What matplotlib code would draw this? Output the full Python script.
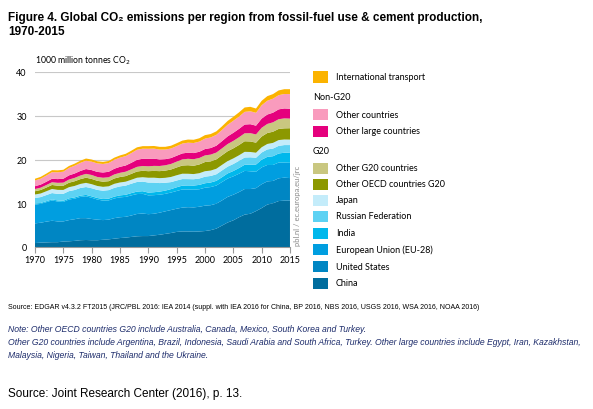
import matplotlib
matplotlib.use("Agg")
import matplotlib.pyplot as plt
from matplotlib.patches import Rectangle

years = list(range(1970, 2016))

# 1000 million tonnes CO2
china = [0.9, 1.0, 1.05, 1.1, 1.1, 1.25, 1.3, 1.4, 1.55, 1.6,
         1.55, 1.55, 1.65, 1.75, 1.9, 2.05, 2.15, 2.3, 2.45, 2.5,
         2.5, 2.65, 2.8, 3.0, 3.2, 3.45, 3.55, 3.55, 3.5, 3.55,
         3.65, 3.85, 4.2, 4.9, 5.6, 6.1, 6.8, 7.4, 7.6, 8.2,
         8.9, 9.7, 10.0, 10.5, 10.6, 10.6]
united_states = [4.5, 4.55, 4.75, 4.9, 4.75, 4.6, 4.85, 4.95, 5.05, 5.0,
                 4.85, 4.7, 4.5, 4.5, 4.7, 4.75, 4.75, 4.9, 5.1, 5.15,
                 5.0, 4.95, 5.05, 5.15, 5.25, 5.3, 5.45, 5.55, 5.55, 5.65,
                 5.8, 5.7, 5.7, 5.75, 5.85, 5.85, 5.75, 5.85, 5.65, 5.25,
                 5.45, 5.3, 5.1, 5.2, 5.25, 5.15]
eu28 = [4.3, 4.3, 4.45, 4.65, 4.55, 4.45, 4.7, 4.7, 4.85, 5.0,
        4.85, 4.6, 4.45, 4.4, 4.5, 4.55, 4.55, 4.6, 4.55, 4.5,
        4.3, 4.25, 4.1, 4.0, 4.0, 4.05, 4.15, 4.05, 4.05, 4.0,
        4.1, 4.15, 4.15, 4.2, 4.2, 4.2, 4.2, 4.15, 4.05, 3.75,
        3.85, 3.75, 3.65, 3.6, 3.45, 3.5]
india = [0.2, 0.21, 0.22, 0.23, 0.24, 0.26, 0.27, 0.28, 0.29, 0.31,
         0.33, 0.35, 0.37, 0.4, 0.42, 0.45, 0.48, 0.52, 0.56, 0.6,
         0.63, 0.67, 0.71, 0.74, 0.78, 0.85, 0.88, 0.92, 0.94, 1.0,
         1.02, 1.04, 1.07, 1.1, 1.17, 1.22, 1.3, 1.4, 1.5, 1.65,
         1.75, 1.85, 2.0, 2.07, 2.25, 2.35]
russia = [1.3, 1.35, 1.4, 1.45, 1.5, 1.6, 1.65, 1.7, 1.75, 1.8,
          1.85, 1.85, 1.9, 1.95, 2.0, 2.05, 2.1, 2.15, 2.2, 2.2,
          2.3, 2.2, 1.95, 1.8, 1.6, 1.55, 1.5, 1.45, 1.45, 1.45,
          1.5, 1.5, 1.5, 1.55, 1.55, 1.6, 1.65, 1.65, 1.7, 1.55,
          1.65, 1.7, 1.75, 1.75, 1.75, 1.7]
japan = [0.8, 0.82, 0.87, 0.93, 0.92, 0.88, 0.9, 0.93, 0.92, 0.95,
         0.93, 0.9, 0.88, 0.87, 0.92, 0.9, 0.9, 0.9, 0.97, 1.0,
         1.1, 1.12, 1.13, 1.12, 1.18, 1.2, 1.22, 1.22, 1.18, 1.22,
         1.25, 1.23, 1.26, 1.27, 1.27, 1.28, 1.26, 1.3, 1.22, 1.15,
         1.2, 1.25, 1.3, 1.32, 1.27, 1.25]
other_oecd = [0.75, 0.8, 0.85, 0.92, 0.95, 0.97, 1.02, 1.07, 1.1, 1.18,
              1.2, 1.18, 1.18, 1.17, 1.22, 1.25, 1.28, 1.35, 1.42, 1.47,
              1.5, 1.55, 1.6, 1.65, 1.7, 1.78, 1.87, 1.95, 1.9, 2.0,
              2.1, 2.1, 2.15, 2.2, 2.25, 2.3, 2.35, 2.42, 2.4, 2.3,
              2.45, 2.5, 2.55, 2.55, 2.55, 2.6]
other_g20 = [0.5, 0.53, 0.57, 0.62, 0.66, 0.7, 0.73, 0.77, 0.82, 0.88,
             0.9, 0.88, 0.9, 0.9, 0.93, 0.96, 1.0, 1.03, 1.07, 1.1,
             1.12, 1.15, 1.18, 1.22, 1.27, 1.33, 1.4, 1.47, 1.5, 1.48,
             1.52, 1.55, 1.55, 1.58, 1.65, 1.7, 1.77, 1.82, 1.9, 1.88,
             2.0, 2.08, 2.15, 2.22, 2.28, 2.2]
other_large = [0.65, 0.7, 0.75, 0.8, 0.85, 0.9, 0.95, 1.0, 1.05, 1.1,
               1.12, 1.15, 1.2, 1.25, 1.3, 1.37, 1.42, 1.5, 1.6, 1.65,
               1.7, 1.65, 1.5, 1.4, 1.35, 1.35, 1.37, 1.4, 1.4, 1.42,
               1.45, 1.5, 1.57, 1.65, 1.75, 1.85, 1.92, 2.0, 2.05, 2.0,
               2.1, 2.15, 2.2, 2.25, 2.27, 2.25]
other_countries = [1.3, 1.35, 1.42, 1.5, 1.55, 1.6, 1.7, 1.78, 1.85, 1.9,
                   1.92, 1.95, 1.95, 2.0, 2.05, 2.1, 2.15, 2.22, 2.3, 2.3,
                   2.3, 2.3, 2.25, 2.2, 2.18, 2.2, 2.25, 2.28, 2.3, 2.32,
                   2.38, 2.42, 2.48, 2.55, 2.65, 2.75, 2.8, 2.9, 2.95, 2.95,
                   3.05, 3.15, 3.2, 3.25, 3.3, 3.35]
intl_transport = [0.4, 0.42, 0.44, 0.46, 0.45, 0.44, 0.45, 0.47, 0.49, 0.5,
                  0.5, 0.48, 0.47, 0.47, 0.48, 0.5, 0.52, 0.54, 0.56, 0.58,
                  0.6, 0.6, 0.62, 0.62, 0.64, 0.66, 0.68, 0.72, 0.74, 0.76,
                  0.8, 0.78, 0.8, 0.83, 0.88, 0.92, 0.97, 1.0, 1.02, 0.97,
                  1.02, 1.05, 1.05, 1.08, 1.1, 1.12]

series = [china, united_states, eu28, india, russia, japan,
          other_oecd, other_g20, other_large, other_countries, intl_transport]
colors = ["#006d9e", "#0086c3", "#009ee0", "#00b8ec", "#5dd2f3", "#c4ecfa",
          "#8c9800", "#c9c780", "#e5007d", "#f99bbd", "#fbb300"]

arial = ["Liberation Sans", "DejaVu Sans"]
tickfont = ["Lato", "DejaVu Sans"]

fig = plt.figure(figsize=(5.93, 4.10), dpi=100)
ax = fig.add_axes([35 / 593, 1 - 248 / 410, 255 / 593, 175 / 410])

ax.stackplot(years, *series, colors=colors, linewidth=0)
ax.set_xlim(1970, 2015)
ax.set_ylim(0, 40)
ax.set_yticks([0, 10, 20, 30, 40])
ax.set_xticks(range(1970, 2016, 5))
for v in [10, 20, 30, 40]:
    ax.axhline(v, color="#c8c8c8", lw=0.8, zorder=0)
for s in ["top", "right", "left"]:
    ax.spines[s].set_visible(False)
ax.spines["bottom"].set_color("#999999")
ax.spines["bottom"].set_linewidth(0.8)
ax.tick_params(axis="x", length=4, color="#999999", labelsize=6.5, pad=2)
ax.tick_params(axis="y", length=0, labelsize=6.5, pad=6)
for lab in ax.get_xticklabels() + ax.get_yticklabels():
    lab.set_family(tickfont)
ax.axvline(2015, ymin=0, ymax=(248 - 170) / 175, color="#999999", lw=0.8)

ax.text(0, 1.035, "1000 million tonnes CO$_2$", transform=ax.transAxes,
        fontsize=6.2, family=tickfont, ha="left", va="bottom")
fig.text(294 / 593, 1 - 246 / 410, "pbl.nl / ec.europa.eu/jrc", rotation=90,
         fontsize=5.5, color="#8a8a8a", family=tickfont, ha="left", va="bottom")

# title
fig.text(8 / 593, 1 - 18 / 410,
         "Figure 4. Global CO\u2082 emissions per region from fossil-fuel use & cement production,",
         fontsize=8.45, fontweight="bold", family=arial, va="center")
fig.text(8 / 593, 1 - 32 / 410, "1970-2015",
         fontsize=8.45, fontweight="bold", family=arial, va="center")

# legend on the right
legend_rows = [("International transport", 78, 10),
               ("Non-G20", 98, None),
               ("Other countries", 115, 9),
               ("Other large countries", 132, 8),
               ("G20", 152, None),
               ("Other G20 countries", 169, 7),
               ("Other OECD countries G20", 185, 6),
               ("Japan", 201, 5),
               ("Russian Federation", 217, 4),
               ("India", 234, 3),
               ("European Union (EU-28)", 250, 2),
               ("United States", 267, 1),
               ("China", 284, 0)]
for text, ypx, idx in legend_rows:
    yf = 1 - ypx / 410
    if idx is None:
        fig.text(313 / 593, yf, text, fontsize=6.5, family=tickfont, va="center")
    else:
        fig.patches.append(Rectangle((313 / 593, yf - 5.5 / 410), 15 / 593, 11 / 410,
                                     transform=fig.transFigure, facecolor=colors[idx],
                                     edgecolor="none"))
        fig.text(336 / 593, yf, text, fontsize=6.5, family=tickfont, va="center")

# footnotes
fig.text(8 / 593, 1 - 308 / 410,
         "Source: EDGAR v4.3.2 FT2015 (JRC/PBL 2016: IEA 2014 (suppl. with IEA 2016 for China, "
         "BP 2016, NBS 2016, USGS 2016, WSA 2016, NOAA 2016)",
         fontsize=5.0, family=arial, va="center")
note_color = "#1d2c6b"
fig.text(8 / 593, 1 - 330 / 410,
         "Note: Other OECD countries G20 include Australia, Canada, Mexico, South Korea and Turkey.",
         fontsize=6.2, family=arial, style="italic", color=note_color, va="center")
fig.text(8 / 593, 1 - 343 / 410,
         "Other G20 countries include Argentina, Brazil, Indonesia, Saudi Arabia and South Africa, Turkey. "
         "Other large countries include Egypt, Iran, Kazakhstan,",
         fontsize=6.2, family=arial, style="italic", color=note_color, va="center")
fig.text(8 / 593, 1 - 356 / 410,
         "Malaysia, Nigeria, Taiwan, Thailand and the Ukraine.",
         fontsize=6.2, family=arial, style="italic", color=note_color, va="center")
fig.text(8 / 593, 1 - 394 / 410, "Source: Joint Research Center (2016), p. 13.",
         fontsize=8.5, family=arial, va="center")

fig.savefig("out.png", dpi=100)
